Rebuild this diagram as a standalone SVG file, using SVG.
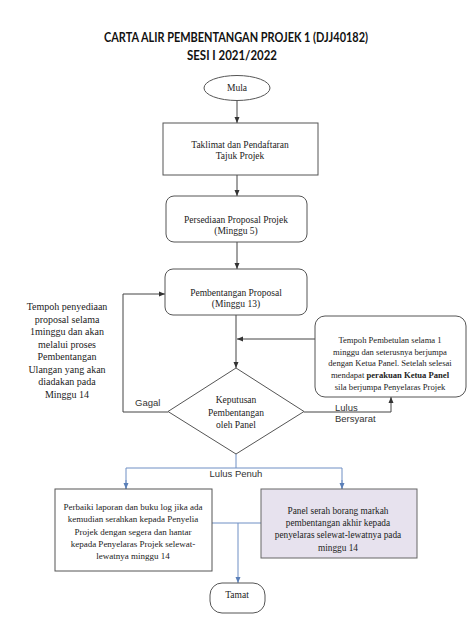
<svg xmlns="http://www.w3.org/2000/svg" width="474" height="632" viewBox="0 0 474 632">
<defs>
<style>
.t{font-family:"Liberation Serif","Times New Roman",serif;font-size:9.5px;fill:#222;text-anchor:middle}
.s{font-family:"Liberation Sans",Arial,sans-serif;font-size:9.5px;fill:#333}
.h{font-family:Lato,"Open Sans","Liberation Sans",sans-serif;font-weight:bold;font-size:12.5px;fill:#111;text-anchor:middle}
.box{fill:#fff;stroke:#555;stroke-width:1}
.ln{fill:none;stroke:#444;stroke-width:1}
.bl{fill:none;stroke:#6f8fc4;stroke-width:1}
</style>
<marker id="a" markerWidth="6" markerHeight="6" refX="6" refY="3" orient="auto" markerUnits="userSpaceOnUse"><path d="M0,0.5 L6,3 L0,5.5 z" fill="#333"/></marker>
<marker id="b" markerWidth="6" markerHeight="6" refX="6" refY="3" orient="auto" markerUnits="userSpaceOnUse"><path d="M0,0.5 L6,3 L0,5.5 z" fill="#5a7fb8"/></marker>
</defs>
<rect width="474" height="632" fill="#fff"/>
<g id="title">
<text class="h" x="236" y="41.5" textLength="264" lengthAdjust="spacingAndGlyphs">CARTA ALIR PEMBENTANGAN PROJEK 1 (DJJ40182)</text>
<text class="h" x="232" y="59.5" textLength="90" lengthAdjust="spacingAndGlyphs">SESI I 2021/2022</text>
</g>
<g id="connectors">
<line class="ln" x1="237" y1="100.5" x2="237" y2="123" marker-end="url(#a)"/>
<line class="ln" x1="237" y1="175" x2="237" y2="196" marker-end="url(#a)"/>
<line class="ln" x1="237" y1="242" x2="237" y2="269" marker-end="url(#a)"/>
<line class="ln" x1="236" y1="315" x2="236" y2="368" marker-end="url(#a)"/>
<line class="ln" x1="315" y1="339" x2="237" y2="339" marker-end="url(#a)"/>
<polyline class="ln" points="304,412 391,412 391,397" marker-end="url(#a)"/>
<polyline class="ln" points="168,412 123,412 123,294 165,294" marker-end="url(#a)"/>
<polyline class="bl" points="236,454 236,468"/>
<polyline class="bl" points="126,489 126,468 342,468 342,489"/>
<line class="bl" x1="126" y1="480" x2="126" y2="489" marker-end="url(#b)"/>
<line class="bl" x1="342" y1="480" x2="342" y2="489" marker-end="url(#b)"/>
<line class="bl" x1="212" y1="523" x2="261" y2="523"/>
<line class="bl" x1="238" y1="523" x2="238" y2="583" marker-end="url(#b)"/>
<text class="s" x="335" y="411">Lulus</text>
<text class="s" x="335" y="422">Bersyarat</text>
<text class="s" x="135" y="406">Gagal</text>
<text class="s" x="236" y="477" text-anchor="middle">Lulus Penuh</text>
</g>
<g id="mula">
<ellipse class="box" cx="237" cy="88" rx="33" ry="12.5"/>
<text class="t" x="237" y="91">Mula</text>
</g>
<g id="taklimat">
<rect class="box" x="163" y="123" width="155" height="52"/>
<text class="t" x="240" y="148">Taklimat dan Pendaftaran</text>
<text class="t" x="240" y="159">Tajuk Projek</text>
</g>
<g id="persediaan">
<rect class="box" x="166" y="196" width="141" height="46" rx="8"/>
<text class="t" x="236" y="223">Persediaan Proposal Projek</text>
<text class="t" x="236" y="234">(Minggu 5)</text>
</g>
<g id="pembentangan">
<rect class="box" x="165" y="269" width="142" height="46" rx="8"/>
<text class="t" x="236" y="296">Pembentangan Proposal</text>
<text class="t" x="236" y="307">(Minggu 13)</text>
</g>
<g id="keputusan">
<polygon class="box" points="236,368 304,411.5 236,454 168,411.5"/>
<text class="t" x="236" y="403">Keputusan</text>
<text class="t" x="236" y="416">Pembentangan</text>
<text class="t" x="236" y="428">oleh Panel</text>
</g>
<g id="pembetulan">
<rect class="box" x="315" y="316" width="151" height="81" rx="10"/>
<text class="t" x="390" y="343" style="font-size:8.6px">Tempoh Pembetulan selama 1</text>
<text class="t" x="390" y="354.5" style="font-size:8.6px">minggu dan seterusnya berjumpa</text>
<text class="t" x="390" y="366" style="font-size:8.6px">dengan Ketua Panel. Setelah selesai</text>
<text class="t" x="390" y="377.5" style="font-size:8.6px">mendapat <tspan font-weight="bold">perakuan Ketua Panel</tspan></text>
<text class="t" x="390" y="389.5" style="font-size:8.6px">sila berjumpa Penyelaras Projek</text>
</g>
<g id="nota">
<text class="t" x="67" y="310" style="font-size:10px">Tempoh penyediaan</text>
<text class="t" x="67" y="322.5" style="font-size:10px">proposal selama</text>
<text class="t" x="67" y="335" style="font-size:10px">1minggu dan akan</text>
<text class="t" x="67" y="347.5" style="font-size:10px">melalui proses</text>
<text class="t" x="67" y="360" style="font-size:10px">Pembentangan</text>
<text class="t" x="67" y="372.5" style="font-size:10px">Ulangan yang akan</text>
<text class="t" x="67" y="385" style="font-size:10px">diadakan pada</text>
<text class="t" x="67" y="397.5" style="font-size:10px">Minggu 14</text>
</g>
<g id="perbaiki">
<rect class="box" x="55" y="489" width="157" height="82"/>
<text class="t" x="133" y="510" style="font-size:9px">Perbaiki laporan dan buku log jika ada</text>
<text class="t" x="133" y="522" style="font-size:9px">kemudian serahkan kepada Penyelia</text>
<text class="t" x="133" y="534.5" style="font-size:9px">Projek dengan segera dan hantar</text>
<text class="t" x="133" y="547" style="font-size:9px">kepada Penyelaras Projek selewat-</text>
<text class="t" x="133" y="559" style="font-size:9px">lewatnya minggu 14</text>
</g>
<g id="panel">
<rect class="box" x="261" y="489" width="156" height="69" style="fill:#e7e2ee;stroke:#666"/>
<text class="t" x="338" y="514" style="font-size:9.3px">Panel serah borang markah</text>
<text class="t" x="338" y="526" style="font-size:9.3px">pembentangan akhir kepada</text>
<text class="t" x="338" y="538" style="font-size:9.3px">penyelaras selewat-lewatnya pada</text>
<text class="t" x="338" y="551" style="font-size:9.3px">minggu 14</text>
</g>
<g id="tamat">
<rect class="box" x="210" y="583" width="55" height="30" rx="12"/>
<text class="t" x="237" y="598">Tamat</text>
</g>
</svg>
